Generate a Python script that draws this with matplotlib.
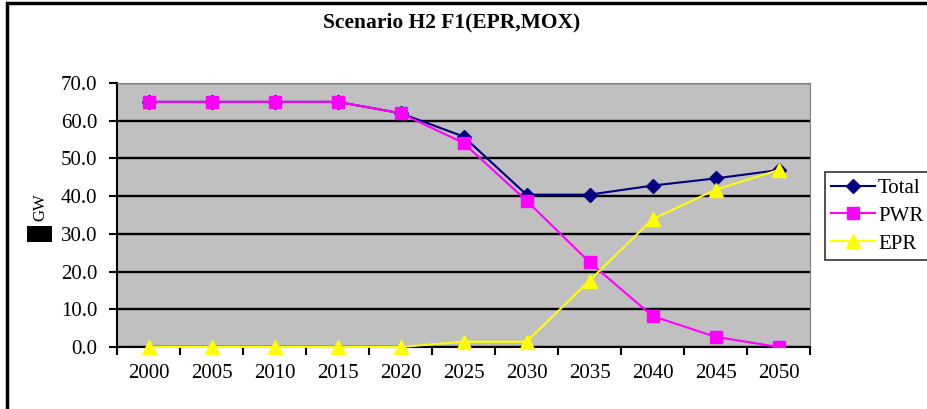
import numpy as np
import matplotlib.pyplot as plt
from matplotlib.patches import Rectangle

years = ['2000', '2005', '2010', '2015', '2020', '2025', '2030', '2035', '2040', '2045', '2050']
total = [65.0, 65.0, 65.0, 65.0, 62.0, 55.8, 40.4, 40.4, 42.8, 44.7, 46.9]
pwr = [65.0, 65.0, 65.0, 65.0, 62.0, 54.1, 38.8, 22.5, 8.2, 2.7, 0.0]
epr = [0.0, 0.0, 0.0, 0.0, 0.0, 1.4, 1.4, 17.6, 33.9, 41.7, 46.9]

plt.rcParams['font.family'] = ['Liberation Serif', 'DejaVu Serif']

W, H = 927, 409
fig = plt.figure(figsize=(W / 100, H / 100), dpi=100)
ax = fig.add_axes([117 / W, 1 - 347 / H, (810 - 117) / W, (347 - 83) / H])
ax.set_facecolor('#c0c0c0')

x = np.arange(len(years))
ax.plot(x, total, color='#000080', lw=1.5, marker='D', ms=7, label='Total', zorder=3)
ax.plot(x, pwr, color='#ff00ff', lw=1.5, marker='s', ms=9, label='PWR', zorder=4)
ax.plot(x, epr, color='#ffff00', lw=1.5, marker='^', ms=10, label='EPR', zorder=5, clip_on=False)

ax.set_xlim(-0.5, len(years) - 0.5)
ax.set_ylim(0, 70)
ax.set_yticks(np.arange(0, 71, 10))
ax.set_yticklabels([f'{v:.1f}' for v in np.arange(0, 71, 10)], fontsize=15)
ax.set_xticks(x)
ax.set_xticklabels(years, fontsize=15)
ax.set_xticks(np.arange(-0.5, len(years), 1), minor=True)
ax.tick_params(axis='x', which='major', length=0, pad=12)
ax.tick_params(axis='x', which='minor', length=6, width=1.5, direction='out', color='black')
ax.tick_params(axis='y', length=6, width=1.5, direction='out', color='black', pad=8)
ax.yaxis.grid(True, color='black', lw=1.7)
ax.set_axisbelow(True)

ax.spines['left'].set_linewidth(1.5)
ax.spines['bottom'].set_linewidth(1.5)
ax.spines['top'].set_color('#808080')
ax.spines['right'].set_color('#808080')

fig.text(452 / W, 1 - 22 / H, 'Scenario H2 F1(EPR,MOX)', ha='center', va='center',
         fontsize=15.5, fontweight='bold')

fig.text(40 / W, 1 - 207 / H, 'GW', rotation=90, ha='center', va='center', fontsize=12)
fig.add_artist(Rectangle((27 / W, 1 - 242 / H), 25 / W, 16 / H, transform=fig.transFigure,
                         facecolor='black', edgecolor='none'))

leg = fig.legend(loc='upper left', bbox_to_anchor=(825 / W, 1 - 172 / H), borderaxespad=0,
                 fontsize=15, frameon=True, fancybox=False, edgecolor='black',
                 handlelength=2.1, handletextpad=0.15, labelspacing=0.4, borderpad=0.3)
leg.get_frame().set_linewidth(1.2)

fig.add_artist(Rectangle((7.5 / W, -0.05), 1.1, 1.05 - 2.5 / H, transform=fig.transFigure,
                         facecolor='none', edgecolor='black', lw=2.5))

fig.savefig('out.png', dpi=100)
